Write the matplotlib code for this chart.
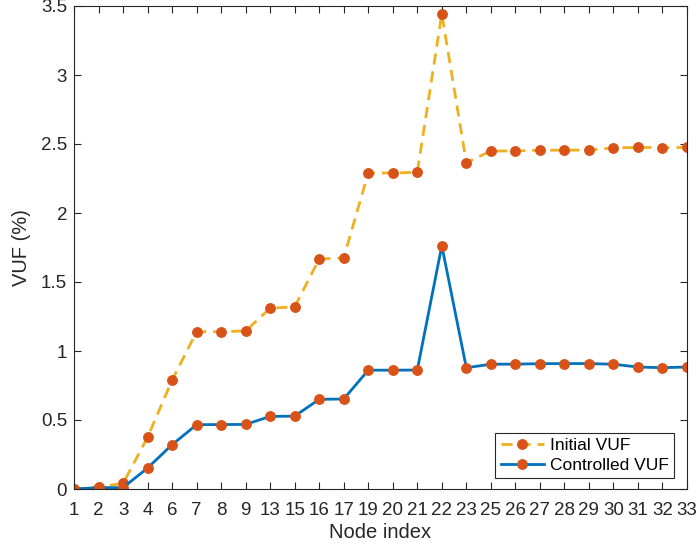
import matplotlib
matplotlib.use("Agg")
import matplotlib.pyplot as plt
from matplotlib.ticker import FuncFormatter

plt.rcParams['font.family'] = ['Liberation Sans', 'DejaVu Sans']

nodes = ["1", "2", "3", "4", "6", "7", "8", "9", "13", "15", "16", "17", "19", "20",
         "21", "22", "23", "25", "26", "27", "28", "29", "30", "31", "32", "33"]

initial_vuf = [0.00, 0.015, 0.04, 0.375, 0.788, 1.14, 1.14, 1.145, 1.31, 1.32, 1.667,
               1.675, 2.29, 2.29, 2.295, 3.444, 2.365, 2.449, 2.45, 2.455, 2.455, 2.456,
               2.472, 2.475, 2.474, 2.475]
controlled_vuf = [0.00, 0.01, 0.01, 0.152, 0.321, 0.466, 0.467, 0.468, 0.526, 0.528, 0.65,
                  0.652, 0.861, 0.861, 0.862, 1.763, 0.879, 0.904, 0.905, 0.908, 0.909,
                  0.909, 0.904, 0.884, 0.879, 0.884]

x = list(range(1, len(nodes) + 1))

fig = plt.figure(figsize=(6.97, 5.52), dpi=100)
ax = fig.add_axes([74 / 697, 1 - 489 / 552, (687 - 74) / 697, (489 - 6) / 552])

ax.plot(x, initial_vuf, linestyle='--', color='#EDB120', linewidth=2.0,
        marker='o', markersize=6.8, markerfacecolor='#D95319',
        markeredgecolor='#D95319', label='Initial VUF', dashes=(4, 2.5))
ax.plot(x, controlled_vuf, linestyle='-', color='#0072BD', linewidth=2.0,
        marker='o', markersize=6.8, markerfacecolor='#D95319',
        markeredgecolor='#D95319', label='Controlled VUF')

ax.set_xlim(1, len(nodes))
ax.set_ylim(0, 3.5)
ax.set_xticks(x)
ax.set_xticklabels(nodes)
ax.set_yticks([0, 0.5, 1, 1.5, 2, 2.5, 3, 3.5])
ax.yaxis.set_major_formatter(FuncFormatter(lambda v, p: f"{v:g}"))

axis_color = '#262626'
for s in ax.spines.values():
    s.set_color(axis_color)
    s.set_linewidth(0.8)
ax.tick_params(direction='in', length=5, width=0.8, colors=axis_color,
               top=True, right=True, labelsize=13.5)
ax.tick_params(axis='x', pad=9.5)
ax.tick_params(axis='y', pad=5)

ax.set_xlabel('Node index', fontsize=14.5, color=axis_color, labelpad=3)
ax.set_ylabel('VUF (%)', fontsize=14.5, color=axis_color, labelpad=7)

leg = ax.legend(loc='lower right', fontsize=12.5, frameon=True, fancybox=False,
                edgecolor=axis_color, framealpha=1, borderpad=0.3,
                labelspacing=0.25, handlelength=2.5, handletextpad=0.35,
                borderaxespad=0, bbox_to_anchor=(0.979, 0.023))
leg.get_frame().set_linewidth(0.8)

fig.savefig('out.png', dpi=100)
